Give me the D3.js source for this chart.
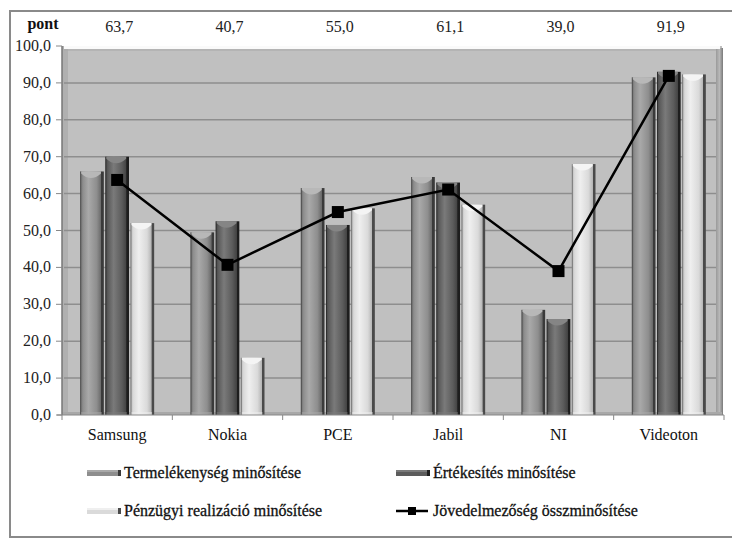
<!DOCTYPE html>
<html><head><meta charset="utf-8">
<script src="https://cdn.jsdelivr.net/npm/d3@7"></script>
</head>
<body style="margin:0"><svg id="c" width="732" height="539"></svg>
<script>
const categories = ["Samsung", "Nokia", "PCE", "Jabil", "NI", "Videoton"];
const termelekenyseg = [66.0, 49.5, 61.5, 64.5, 28.5, 91.5];
const ertekesites = [70.0, 52.5, 51.5, 63.0, 26.0, 93.0];
const penzugyi = [52.0, 15.5, 56.0, 57.0, 68.0, 92.3];
const jovedelmezoseg = [63.7, 40.7, 55.0, 61.1, 39.0, 91.9];
const yTicks = [0, 10, 20, 30, 40, 50, 60, 70, 80, 90, 100];
const seriesNames = ["Termelékenység minősítése", "Értékesítés minősítése", "Pénzügyi realizáció minősítése", "Jövedelmezőség összminősítése"];
const unitLabel = "pont";

const FONT = "'Liberation Serif'";
const svg = d3.select("#c").style("display", "block");
const fmt = v => d3.format(".1f")(v).replace(".", ",");

const x = d3.scaleBand().domain(categories).range([62, 724]);
const y = d3.scaleLinear().domain([0, 100]).range([415, 46]);
const barSeries = [termelekenyseg, ertekesites, penzugyi];
const x1 = d3.scaleBand().domain([0, 1, 2]).range([-37, 37]).paddingInner(0.06);

const palettes = [
  {dark: "#6a6a6a", hi: "#a9a9a9", base: "#8e8e8e", edge: "#3a3a3a", cap: "#b8b8b8"},
  {dark: "#444", hi: "#7a7a7a", base: "#5c5c5c", edge: "#1e1e1e", cap: "#858585"},
  {dark: "#b6b6b6", hi: "#efefef", base: "#dadada", edge: "#4a4a4a", cap: "#f4f4f4"}
];

const defs = svg.append("defs");
palettes.forEach((p, i) => {
  const g = defs.append("linearGradient").attr("id", "g" + i).attr("x1", 0).attr("x2", 1).attr("y1", 0).attr("y2", 0);
  [[0, p.dark], [0.12, p.base], [0.35, p.hi], [0.7, p.base], [0.88, p.dark], [0.9, p.edge], [1, p.edge]]
    .forEach(s => g.append("stop").attr("offset", s[0]).attr("stop-color", s[1]));
});
const rw = defs.append("linearGradient").attr("id", "rwall").attr("x1", 0).attr("x2", 1);
rw.append("stop").attr("offset", 0).attr("stop-color", "#9a9a9a");
rw.append("stop").attr("offset", 0.5).attr("stop-color", "#b8b8b8");
rw.append("stop").attr("offset", 1).attr("stop-color", "#7a7a7a");

// outer frame
svg.append("rect").attr("x", 10).attr("y", 11).attr("width", 740).attr("height", 526)
  .attr("fill", "#fff").attr("stroke", "#8a8a8a").attr("stroke-width", 2);

// plot wall
svg.append("rect").attr("x", 62).attr("y", y(100)).attr("width", 660).attr("height", y(0) - y(100)).attr("fill", "#c0c0c0");
svg.append("rect").attr("x", 62).attr("y", y(100)).attr("width", 6).attr("height", y(0) - y(100)).attr("fill", "#b0b0b0");
svg.append("rect").attr("x", 716).attr("y", y(100) + 2).attr("width", 7).attr("height", y(0) - y(100) - 2).attr("fill", "url(#rwall)");

// gridlines
svg.append("g").selectAll("line").data(yTicks.filter(t => t > 0 && t < 100)).join("line")
  .attr("x1", 64).attr("x2", 716).attr("y1", d => y(d)).attr("y2", d => y(d))
  .attr("stroke", "#8e8e8e").attr("stroke-width", 1.5);
svg.append("line").attr("x1", 64).attr("x2", 720).attr("y1", y(100) + 1.5).attr("y2", y(100) + 1.5)
  .attr("stroke", "#fafafa").attr("stroke-width", 3);
svg.append("line").attr("x1", 64).attr("x2", 716).attr("y1", y(100) + 4).attr("y2", y(100) + 4)
  .attr("stroke", "#a8a8a8").attr("stroke-width", 1);
svg.append("rect").attr("x", 62).attr("y", y(0) - 3).attr("width", 660).attr("height", 3).attr("fill", "#a8a8a8");

// bars
const bars = svg.append("g");
barSeries.forEach((vals, si) => {
  const p = palettes[si];
  const gs = bars.append("g");
  vals.forEach((v, ci) => {
    const x0 = x(categories[ci]) + x.bandwidth() / 2 + x1(si);
    const w = x1.bandwidth();
    const top = y(v);
    gs.append("rect").attr("x", x0).attr("y", top).attr("width", w).attr("height", y(0) - top)
      .attr("fill", "url(#g" + si + ")");
    gs.append("rect").attr("x", x0).attr("y", top).attr("width", 1).attr("height", y(0) - top).attr("fill", p.edge).attr("opacity", 0.6);
    gs.append("path")
      .attr("d", `M${x0 + 1},${top} L${x0 + w * 0.88},${top} L${x0 + w * 0.88},${top + 2} Q${x0 + w * 0.45},${top + 11} ${x0 + 1},${top + 2} Z`)
      .attr("fill", p.cap);
    gs.append("rect").attr("x", x0 + 1).attr("y", y(0) - 3).attr("width", w * 0.87).attr("height", 3).attr("fill", p.hi).attr("opacity", 0.5);
  });
});

// axes
svg.append("line").attr("x1", 62).attr("x2", 62).attr("y1", y(100)).attr("y2", y(0)).attr("stroke", "#777").attr("stroke-width", 1.5);
svg.append("line").attr("x1", 57).attr("x2", 724).attr("y1", y(0)).attr("y2", y(0)).attr("stroke", "#888").attr("stroke-width", 1.2);
svg.append("g").selectAll("line").data(yTicks).join("line")
  .attr("x1", 56).attr("x2", 62).attr("y1", d => y(d)).attr("y2", d => y(d)).attr("stroke", "#888");
svg.append("g").selectAll("line").data(categories.concat(["end"])).join("line")
  .attr("x1", (d, i) => 62 + i * x.step()).attr("x2", (d, i) => 62 + i * x.step())
  .attr("y1", y(0)).attr("y2", y(0) + 5).attr("stroke", "#888");

function txt(sel) { return sel.style("font-family", FONT); }

txt(svg.append("g").selectAll("text").data(yTicks).join("text"))
  .attr("x", 51).attr("y", d => y(d) + 5).attr("text-anchor", "end")
  .attr("font-size", 16).attr("fill", "#222").text(fmt);

txt(svg.append("g").selectAll("text").data(categories).join("text"))
  .attr("x", d => x(d) + x.bandwidth() / 2).attr("y", 440).attr("text-anchor", "middle")
  .attr("font-size", 16).attr("fill", "#111").text(d => d);

// top values
txt(svg.append("text")).attr("x", 43).attr("y", 29).attr("text-anchor", "middle").attr("font-size", 16)
  .attr("font-weight", "bold").attr("fill", "#111").text(unitLabel);
txt(svg.append("g").selectAll("text").data(jovedelmezoseg).join("text"))
  .attr("x", (d, i) => x(categories[i]) + x.bandwidth() / 2 + 2).attr("y", 32).attr("text-anchor", "middle")
  .attr("font-size", 16).attr("fill", "#222").text(fmt);

// line
const pts = jovedelmezoseg.map((v, i) => [x(categories[i]) + x.bandwidth() / 2, y(v)]);
svg.append("path").attr("d", d3.line()(pts)).attr("fill", "none").attr("stroke", "#000").attr("stroke-width", 2.5);
svg.append("g").selectAll("rect").data(pts).join("rect")
  .attr("x", d => d[0] - 6).attr("y", d => d[1] - 6).attr("width", 12).attr("height", 12).attr("fill", "#000");

// legend
const leg = [
  {x: 87, y: 473, s: 0, t: seriesNames[0]},
  {x: 396, y: 473, s: 1, t: seriesNames[1]},
  {x: 87, y: 511, s: 2, t: seriesNames[2]},
  {x: 396, y: 511, s: 3, t: seriesNames[3]}
];
leg.forEach(l => {
  if (l.s < 3) {
    const p = palettes[l.s];
    svg.append("rect").attr("x", l.x).attr("y", l.y - 3).attr("width", 33).attr("height", 6).attr("fill", p.base);
    svg.append("rect").attr("x", l.x).attr("y", l.y - 3).attr("width", 33).attr("height", 2).attr("fill", p.hi);
    svg.append("rect").attr("x", l.x + 31).attr("y", l.y - 3).attr("width", 3).attr("height", 6).attr("fill", p.edge);
  } else {
    svg.append("line").attr("x1", l.x).attr("x2", l.x + 32).attr("y1", l.y).attr("y2", l.y).attr("stroke", "#000").attr("stroke-width", 2.5);
    svg.append("rect").attr("x", l.x + 12).attr("y", l.y - 4).attr("width", 8).attr("height", 8).attr("fill", "#000");
  }
  txt(svg.append("text")).attr("x", l.x + 37).attr("y", l.y + 5).attr("font-size", 16).attr("fill", "#111")
    .attr("stroke", "#111").attr("stroke-width", 0.3).text(l.t);
});
</script></body></html>
